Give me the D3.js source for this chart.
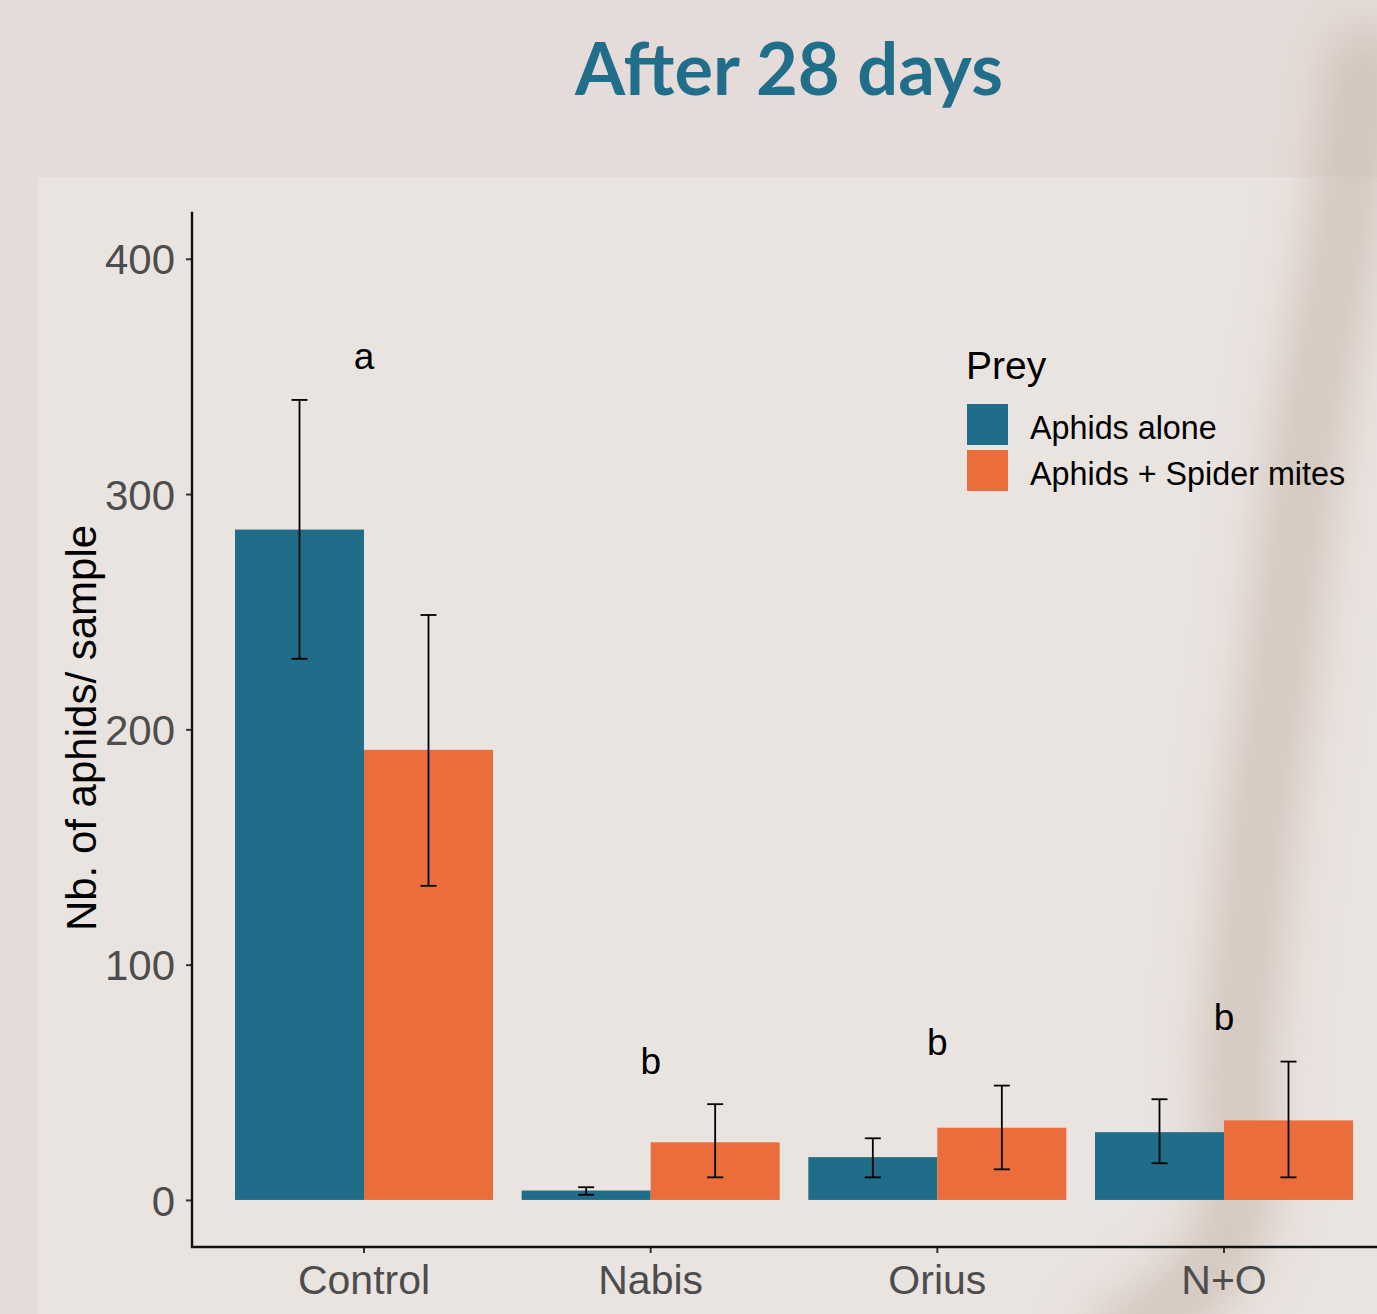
<!DOCTYPE html>
<html>
<head>
<meta charset="utf-8">
<script src="https://cdn.jsdelivr.net/npm/d3@7"></script>
<style>
  html, body { margin: 0; padding: 0; background: #e5dcd9; }
  svg { display: block; }
</style>
</head>
<body>
<script>
// Mean number of aphids per sample after 28 days, by predator treatment
const treatments = ["Control", "Nabis", "Orius", "N+O"];
const preyGroups = ["Aphids alone", "Aphids + Spider mites"];
const aphidsAloneMean  = [284.9, 4.0, 18.2, 28.8];
const aphidsAloneLow   = [230.0, 2.2, 9.6, 15.6];
const aphidsAloneHigh  = [340.0, 5.4, 26.2, 42.8];
const withMitesMean    = [191.3, 24.5, 30.7, 33.8];
const withMitesLow     = [133.5, 9.6, 13.0, 9.6];
const withMitesHigh    = [248.6, 40.7, 48.6, 58.8];
const groupLetters     = ["a", "b", "b", "b"];
const letterHeights    = [353, 53.7, 61.4, 72.2];
const yTicks = [0, 100, 200, 300, 400];

const W = 1377, H = 1314;
const colors = { "Aphids alone": "#1f6d88", "Aphids + Spider mites": "#ea6d3b" };

const rows = [];
treatments.forEach((t, i) => {
  rows.push({ t, g: preyGroups[0], mean: aphidsAloneMean[i], lo: aphidsAloneLow[i], hi: aphidsAloneHigh[i] });
  rows.push({ t, g: preyGroups[1], mean: withMitesMean[i], lo: withMitesLow[i], hi: withMitesHigh[i] });
});

const svg = d3.select("body").append("svg").attr("width", W).attr("height", H);
const defs = svg.append("defs");
defs.append("filter").attr("id", "soft").attr("x", "-100%").attr("y", "-30%").attr("width", "300%").attr("height", "160%")
  .append("feGaussianBlur").attr("stdDeviation", 26);
defs.append("clipPath").attr("id", "page")
  .append("rect").attr("width", W).attr("height", H);

// Backgrounds
svg.append("rect").attr("width", W).attr("height", H).attr("fill", "#e5dcd9");
svg.append("rect").attr("x", 38).attr("y", 177).attr("width", W - 38).attr("height", H - 177).attr("fill", "#eae4e1");

// Soft shadow falling across the right side
const shadeLayer = svg.append("g").attr("clip-path", "url(#page)");
const shade = [[1365, 60], [1340, 250], [1314, 400], [1292, 560], [1276, 700], [1262, 800],
               [1248, 940], [1238, 1050], [1238, 1150], [1232, 1230], [1190, 1290], [1120, 1340]];
shadeLayer.append("path")
  .attr("d", d3.line().curve(d3.curveCatmullRom)(shade))
  .attr("fill", "none").attr("stroke", "#bba898").attr("stroke-width", 70)
  .attr("stroke-linecap", "round").attr("opacity", 0.5).attr("filter", "url(#soft)");

// Title
const title = svg.append("text")
  .attr("x", 789).attr("y", 95).attr("text-anchor", "middle")
  .attr("font-family", "Lato, 'Open Sans', sans-serif").attr("font-weight", 700)
  .attr("font-size", 72).attr("fill", "#216e8b")
  .text("After 28 days");
const tw = title.node().getComputedTextLength();
title.attr("font-size", 72 * 428 / tw);

// Scales
const x0 = d3.scaleBand().domain(treatments).range([192, 1396]).paddingInner(0.1).paddingOuter(0.15);
const x1 = d3.scaleBand().domain(preyGroups).range([0, x0.bandwidth()]);
const y = d3.scaleLinear().domain([-20, 420]).range([1247, 211.7]);

const font = "'Liberation Sans', Arial, sans-serif";

// Bars
svg.append("g").selectAll("rect").data(rows).join("rect")
  .attr("x", d => x0(d.t) + x1(d.g))
  .attr("y", d => y(d.mean))
  .attr("width", x1.bandwidth())
  .attr("height", d => y(0) - y(d.mean))
  .attr("fill", d => colors[d.g]);

// Error bars
const capW = 16;
const eb = svg.append("g").attr("stroke", "#000").attr("stroke-width", 1.8).attr("fill", "none");
rows.forEach(d => {
  const cx = x0(d.t) + x1(d.g) + x1.bandwidth() / 2;
  eb.append("line").attr("x1", cx).attr("x2", cx).attr("y1", y(d.hi)).attr("y2", y(d.lo));
  eb.append("line").attr("x1", cx - capW / 2).attr("x2", cx + capW / 2).attr("y1", y(d.hi)).attr("y2", y(d.hi));
  eb.append("line").attr("x1", cx - capW / 2).attr("x2", cx + capW / 2).attr("y1", y(d.lo)).attr("y2", y(d.lo));
});

// Significance letters
svg.append("g").selectAll("text").data(treatments).join("text")
  .attr("x", t => x0(t) + x0.bandwidth() / 2)
  .attr("y", (t, i) => y(letterHeights[i]))
  .attr("text-anchor", "middle")
  .attr("font-family", font).attr("font-size", 37).attr("fill", "#000")
  .text((t, i) => groupLetters[i]);

// Y axis
const yAxis = svg.append("g").attr("transform", "translate(192,0)")
  .call(d3.axisLeft(y).tickValues(yTicks).tickSize(6).tickPadding(11));
yAxis.select(".domain").remove();
yAxis.selectAll(".tick line").attr("stroke", "#333").attr("stroke-width", 2);
yAxis.selectAll(".tick text").attr("font-family", font).attr("font-size", 42).attr("fill", "#4d4d4d")
  .attr("dy", "0.36em");

// X axis
const xAxis = svg.append("g").attr("transform", "translate(0,1247)")
  .call(d3.axisBottom(x0).tickSize(6).tickPadding(12));
xAxis.select(".domain").remove();
xAxis.selectAll(".tick line").attr("stroke", "#333").attr("stroke-width", 2);
xAxis.selectAll(".tick text").attr("font-family", font).attr("font-size", 41).attr("fill", "#4d4d4d")
  .attr("dy", "0.71em");

// Axis lines
svg.append("line").attr("x1", 192).attr("x2", 192).attr("y1", 211.7).attr("y2", 1248)
  .attr("stroke", "#111").attr("stroke-width", 2.4);
svg.append("line").attr("x1", 191).attr("x2", W).attr("y1", 1247).attr("y2", 1247)
  .attr("stroke", "#111").attr("stroke-width", 2.4);

// Y axis title
svg.append("text")
  .attr("transform", "translate(96,728) rotate(-90)")
  .attr("text-anchor", "middle")
  .attr("font-family", font).attr("font-size", 42).attr("fill", "#000")
  .text("Nb. of aphids/ sample");

// Legend
const legend = svg.append("g").attr("transform", "translate(966,0)");
legend.append("text").attr("x", 0).attr("y", 379)
  .attr("font-family", font).attr("font-size", 39).attr("fill", "#000").text("Prey");
const keys = legend.selectAll("g.key").data(preyGroups).join("g").attr("class", "key")
  .attr("transform", (d, i) => `translate(0,${404 + i * 46})`);
keys.append("rect").attr("x", 1).attr("y", 0).attr("width", 41).attr("height", 41)
  .attr("fill", d => colors[d]);
keys.append("text").attr("x", 64).attr("y", 35)
  .attr("font-family", font).attr("font-size", 32.3).attr("fill", "#000").text(d => d);
</script>
</body>
</html>
